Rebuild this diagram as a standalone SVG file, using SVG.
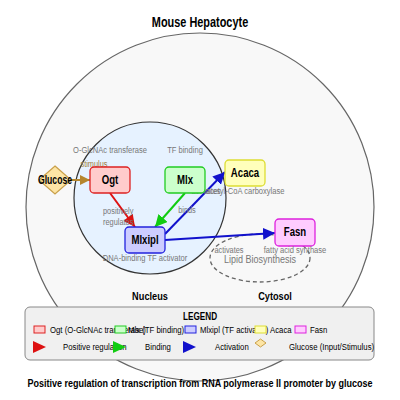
<svg xmlns="http://www.w3.org/2000/svg" width="400" height="400" viewBox="0 0 400 400">
<defs>
<style>
text{font-family:"Liberation Sans",Arial,sans-serif}
.title{font-size:14px;font-weight:bold;fill:#000;text-anchor:middle}
.nl{font-size:12px;font-weight:bold;fill:#000;text-anchor:middle;dominant-baseline:central}
.sub{font-size:9px;fill:#777;text-anchor:middle}
.comp{font-size:11.5px;font-weight:bold;fill:#000;text-anchor:middle}
.leg{font-size:9.5px;fill:#000}
.el{font-size:9px;fill:#777}
.edge{fill:none;stroke-width:2}
</style>
<marker id="ar" viewBox="0 0 10 10" refX="10" refY="5" markerWidth="6" markerHeight="6" orient="auto" markerUnits="strokeWidth"><path d="M0,0L10,5L0,10z" fill="#dd1111"/></marker>
<marker id="ag" viewBox="0 0 10 10" refX="10" refY="5" markerWidth="6" markerHeight="6" orient="auto" markerUnits="strokeWidth"><path d="M0,0L10,5L0,10z" fill="#11cc11"/></marker>
<marker id="ab" viewBox="0 0 10 10" refX="10" refY="5" markerWidth="6" markerHeight="6" orient="auto" markerUnits="strokeWidth"><path d="M0,0L10,5L0,10z" fill="#1111cc"/></marker>
<marker id="ao" viewBox="0 0 10 10" refX="10" refY="5" markerWidth="5" markerHeight="5" orient="auto" markerUnits="strokeWidth"><path d="M0,0L10,5L0,10z" fill="#b5862e"/></marker>
</defs>
<rect width="400" height="400" fill="#fff"/>
<text class="title" transform="translate(200,27) scale(0.78,1)">Mouse Hepatocyte</text>
<g id="cell"><circle cx="200" cy="207" r="174" fill="#f8f8f8" stroke="#666" stroke-width="1.2"/></g>
<g id="nucleus"><circle cx="150" cy="198" r="76" fill="#e6f2ff" stroke="#333" stroke-width="1.2"/></g>
<g id="lipid"><ellipse cx="260" cy="258" rx="50" ry="24" fill="none" stroke="#666" stroke-width="1.3" stroke-dasharray="4,3"/>
<text transform="translate(260,263) scale(0.82,1)" text-anchor="middle" font-size="11" fill="#777">Lipid Biosynthesis</text></g>
<text class="comp" transform="translate(150,300) scale(0.8,1)">Nucleus</text>
<text class="comp" transform="translate(275,300) scale(0.8,1)">Cytosol</text>
<g id="connectors">
<line class="edge" x1="70" y1="180" x2="90" y2="180" stroke="#b5862e" stroke-width="2.5" marker-end="url(#ao)"/>
<line class="edge" x1="110" y1="193" x2="135" y2="227" stroke="#dd1111" marker-end="url(#ar)"/>
<line class="edge" x1="185" y1="193" x2="155" y2="227" stroke="#11cc11" marker-end="url(#ag)"/>
<line class="edge" x1="165" y1="234" x2="225" y2="172" stroke="#1111cc" marker-end="url(#ab)"/>
<line class="edge" x1="165" y1="240" x2="275" y2="233" stroke="#1111cc" marker-end="url(#ab)"/>
<text transform="translate(94,167) scale(0.82,1)" text-anchor="middle" font-size="9" fill="#a08040">stimulus</text>
<text class="el" transform="translate(103,214) scale(0.82,1)">positively</text>
<text class="el" transform="translate(103,225) scale(0.82,1)">regulates</text>
<text class="el" transform="translate(187,213) scale(0.82,1)" text-anchor="middle">binds</text>
<text class="el" transform="translate(206,194) scale(0.82,1)" text-anchor="middle">activates</text>
<text class="el" transform="translate(229,253) scale(0.82,1)" text-anchor="middle">activates</text>
</g>
<g id="glucose"><polygon points="55,166 71,180 55,194 39,180" fill="#fde5a5" stroke="#c9a04a" stroke-width="1.2"/><text class="nl" transform="translate(55,180) scale(0.72,1)">Glucose</text></g>
<g id="ogt"><rect x="90" y="167" width="40" height="26" rx="4" fill="#ffcccc" stroke="#dd2222" stroke-width="1.3"/><text class="nl" transform="translate(110,180) scale(0.8,1)">Ogt</text>
<text class="sub" transform="translate(110,153) scale(0.84,1)">O-GlcNAc transferase</text></g>
<g id="mlx"><rect x="165" y="167" width="40" height="26" rx="4" fill="#ccffcc" stroke="#22cc22" stroke-width="1.3"/><text class="nl" transform="translate(185,180) scale(0.8,1)">Mlx</text>
<text class="sub" transform="translate(185,153) scale(0.84,1)">TF binding</text></g>
<g id="acaca"><rect x="225" y="160" width="40" height="26" rx="4" fill="#ffffbb" stroke="#dddd33" stroke-width="1.3"/><text class="nl" transform="translate(245,173) scale(0.8,1)">Acaca</text>
<text class="sub" transform="translate(245,194) scale(0.84,1)">acetyl-CoA carboxylase</text></g>
<g id="mlxipl"><rect x="125" y="227" width="40" height="26" rx="4" fill="#ccccff" stroke="#2222dd" stroke-width="1.3"/><text class="nl" transform="translate(145,240) scale(0.8,1)">Mlxipl</text>
<text class="sub" transform="translate(145,261) scale(0.84,1)">DNA-binding TF activator</text></g>
<g id="fasn"><rect x="275" y="219" width="40" height="27" rx="4" fill="#ffccff" stroke="#dd22dd" stroke-width="1.3"/><text class="nl" transform="translate(295,232) scale(0.8,1)">Fasn</text>
<text class="sub" transform="translate(295,253) scale(0.84,1)">fatty acid synthase</text></g>
<g id="legend">
<rect x="25" y="307" width="349" height="53" rx="5" fill="#f0f0f0" stroke="#888" stroke-width="1"/>
<text transform="translate(200,320) scale(0.82,1)" text-anchor="middle" font-size="10" font-weight="bold">LEGEND</text>
<text class="leg" transform="translate(50,333) scale(0.82,1)">Ogt (O-GlcNAc transferase)</text>
<rect x="34" y="326" width="11" height="7" fill="#ffcccc" stroke="#dd2222"/>
<rect x="115" y="326" width="11" height="7" fill="#ccffcc" stroke="#22cc22"/><text class="leg" transform="translate(128,333) scale(0.82,1)">Mlx (TF binding)</text>
<text class="leg" transform="translate(200,333) scale(0.82,1)">Mlxipl (TF activator)</text>
<rect x="185" y="326" width="11" height="7" fill="#ccccff" stroke="#2222dd"/>
<rect x="255" y="326" width="11" height="7" fill="#ffffbb" stroke="#dddd33"/><text class="leg" transform="translate(270,333) scale(0.82,1)">Acaca</text>
<rect x="295" y="326" width="11" height="7" fill="#ffccff" stroke="#dd22dd"/><text class="leg" transform="translate(310,333) scale(0.82,1)">Fasn</text>
<path d="M33,341L46,347L33,353z" fill="#dd1111"/><text class="leg" transform="translate(63,350) scale(0.82,1)">Positive regulation</text>
<path d="M113,341L126,347L113,353z" fill="#11cc11"/><text class="leg" transform="translate(145,350) scale(0.82,1)">Binding</text>
<path d="M183,341L196,347L183,353z" fill="#1111cc"/><text class="leg" transform="translate(215,350) scale(0.82,1)">Activation</text>
<polygon points="260.5,339 266,343 260.5,347 255,343" fill="#fde5a5" stroke="#c9a04a"/><text class="leg" transform="translate(289,350) scale(0.82,1)">Glucose (Input/Stimulus)</text>
</g>
<text transform="translate(200,387) scale(0.82,1)" text-anchor="middle" font-size="11" font-weight="bold">Positive regulation of transcription from RNA polymerase II promoter by glucose</text>
</svg>
